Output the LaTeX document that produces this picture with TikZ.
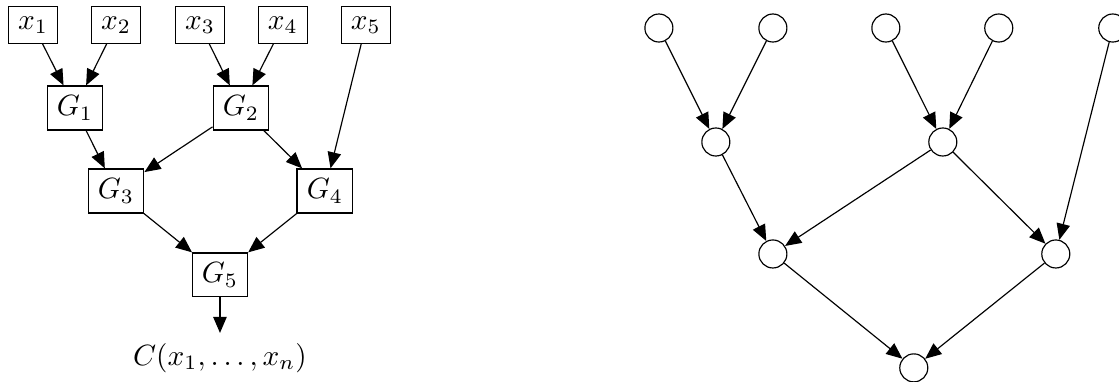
\documentclass[tikz,border=0pt]{standalone}
\usepackage{amsmath}
\usepackage{tikz}
\usetikzlibrary{arrows.meta}

\begin{document}
\begin{tikzpicture}[>={Triangle[length=5.5pt,width=4.6pt]},
		gate/.style={draw, rectangle},
		vertex/.style={draw, circle, inner sep=0pt, minimum size=0.336cm}]
		\useasboundingbox (0, 0) rectangle (13.42, -4.57);

		\draw (0.396, -0.300) node[gate] (x1)    {$x_1$};
		\draw (1.391, -0.300) node[gate] (x2)    {$x_2$};
		\draw (2.398, -0.300) node[gate] (x3)    {$x_3$};
		\draw (3.393, -0.300) node[gate] (x4)    {$x_4$};
		\draw (4.388, -0.300) node[gate] (x5)    {$x_5$};
		\draw (0.899, -1.295) node[gate] (g1)    {$G_1$};
		\draw (2.890, -1.295) node[gate] (g2)    {$G_2$};
		\draw (1.391, -2.290) node[gate] (g3)    {$G_3$};
		\draw (3.897, -2.290) node[gate] (g4)    {$G_4$};
		\draw (2.638, -3.297) node[gate] (g5)    {$G_5$};
		\draw (2.638, -4.293) node (out)    {$C(x_1, \ldots, x_n)$};
		\draw[->] (x1) -- (g1);
		\draw[->] (x2) -- (g1);
		\draw[->] (x3) -- (g2);
		\draw[->] (x4) -- (g2);
		\draw[->] (x5) -- (g4);
		\draw[->] (g1) -- (g3);
		\draw[->] (g2) -- (g3);
		\draw[->] (g2) -- (g4);
		\draw[->] (g3) -- (g5);
		\draw[->] (g4) -- (g5);
		\draw[->] (g5) -- (out);


		\draw (7.902, -0.336) node[vertex] (v1)    {};
		\draw (9.269, -0.336) node[vertex] (v2)    {};
		\draw (10.624, -0.336) node[vertex] (v3)    {};
		\draw (11.978, -0.336) node[vertex] (v4)    {};
		\draw (13.345, -0.336) node[vertex] (v5)    {};
		\draw (8.585, -1.703) node[vertex] (w1)    {};
		\draw (11.307, -1.703) node[vertex] (w2)    {};
		\draw (9.269, -3.046) node[vertex] (w3)    {};
		\draw (12.662, -3.046) node[vertex] (w4)    {};
		\draw (10.959, -4.412) node[vertex] (w5)    {};
		\draw[->] (v1) -- (w1);
		\draw[->] (v2) -- (w1);
		\draw[->] (v3) -- (w2);
		\draw[->] (v4) -- (w2);
		\draw[->] (v5) -- (w4);
		\draw[->] (w1) -- (w3);
		\draw[->] (w2) -- (w3);
		\draw[->] (w2) -- (w4);
		\draw[->] (w3) -- (w5);
		\draw[->] (w4) -- (w5);

	\end{tikzpicture}
\end{document}
